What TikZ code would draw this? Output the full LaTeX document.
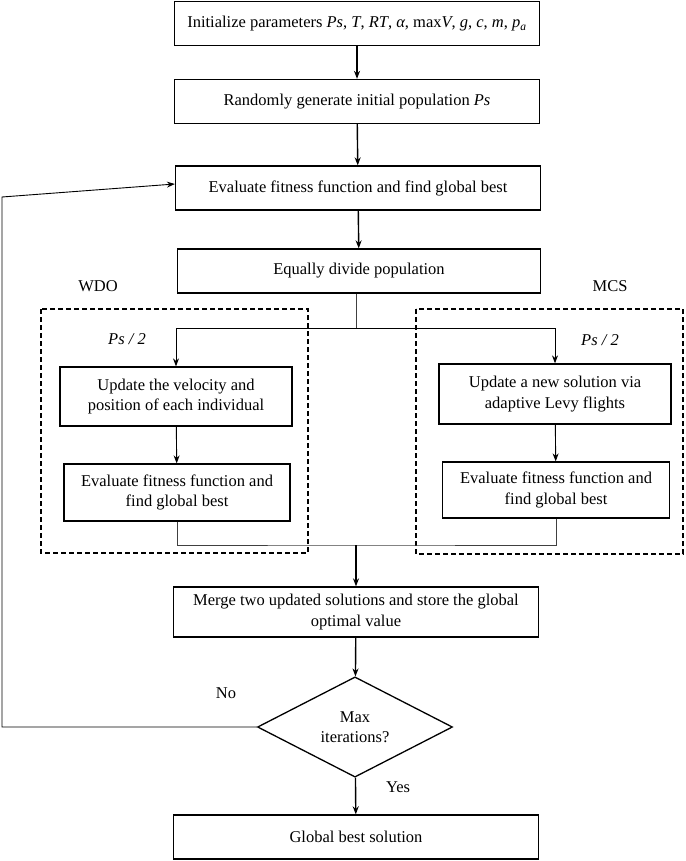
\documentclass[tikz,border=0pt]{standalone}
\usepackage{fontspec}
\setmainfont{Liberation Serif}
\usetikzlibrary{shapes.geometric,arrows.meta}
\begin{document}
\begin{tikzpicture}[x=1pt,y=1pt]
      \tikzstyle{every node}+=[inner sep=0pt, font=\fontsize{16.5}{20.5}\selectfont]
      \tikzstyle{block}=[draw=black, line width=1.3pt, align=center, minimum height=44pt]
      \tikzstyle{flow}=[black, line width=1.4pt, -{Stealth[length=8pt,width=6pt]}]
      \tikzstyle{subflow}=[black, line width=0.9pt, -{Stealth[length=8pt,width=6pt]}]
      \tikzstyle{link}=[black!75, line width=0.8pt]
      \tikzstyle{group}=[black, line width=1.1pt, dash pattern=on 5pt off 3pt]
      \useasboundingbox (0,0) rectangle (685,-861);
      \node [block, minimum width=365pt] (init) at (357,-23.5) {Initialize parameters \textit{Ps}, \textit{T}, \textit{RT}, \textit{α}, max\textit{V}, \textit{g}, \textit{c}, \textit{m}, \textit{p\textsubscript{a}}};
      \node [block, minimum width=365pt] (rand) at (357,-101.5) {Randomly generate initial population \textit{Ps}};
      \node [block, minimum width=365pt] (eval) at (358,-188) {Evaluate fitness function and find global best};
      \node [block, minimum width=363pt] (divide) at (359,-271) {Equally divide population};
      \node (wdo) at (98,-286) {WDO};
      \node (mcs) at (610,-286) {MCS};
      \draw [group] (41,-309) rectangle (308,-553);
      \draw [group] (416,-309) rectangle (683,-554);
      \node (halfl) at (127,-339) {\textit{Ps / 2}};
      \node (halfr) at (600,-340) {\textit{Ps / 2}};
      \node [block, minimum width=232pt, minimum height=59pt] (updwdo) at (176,-396.5) {Update the velocity and\\position of each individual};
      \node [block, minimum width=226pt, minimum height=57pt] (evalwdo) at (177,-492.5) {Evaluate fitness function and\\find global best};
      \node [block, minimum width=232pt, minimum height=60pt] (updmcs) at (555,-394) {Update a new solution via\\adaptive Levy flights};
      \node [block, minimum width=227pt, minimum height=56pt] (evalmcs) at (556,-490) {Evaluate fitness function and\\find global best};
      \node [block, minimum width=365pt, minimum height=50pt] (merge) at (356,-612) {Merge two updated solutions and store the global\\optimal value};
      \node [diamond, draw=black, line width=1.3pt, align=center, minimum width=195pt, minimum height=96pt] (maxit) at (355,-727) {Max\\iterations?};
      \node (no) at (226,-693) {No};
      \node (yes) at (398,-787) {Yes};
      \node [block, minimum width=365pt] (best) at (356,-837) {Global best solution};
      \coordinate (split) at (356,-328);
      \coordinate (join) at (356,-545);
      \coordinate (backlow) at (2,-727);
      \coordinate (backhigh) at (2,-197);
      \draw [flow] (init) -- (rand);
      \draw [flow] (rand) -- (eval);
      \draw [flow] (eval) -- (divide);
      \draw [link] (divide.south -| split) -- (split);
      \draw [subflow] (split) -| (updwdo);
      \draw [subflow] (split) -| (updmcs);
      \draw [subflow] (updwdo) -- (evalwdo);
      \draw [subflow] (updmcs) -- (evalmcs);
      \draw [link] (evalwdo.south) |- (join) -| (evalmcs.south);
      \draw [flow] (join) -- (merge);
      \draw [flow] (merge) -- (maxit);
      \draw [flow] (maxit) -- (best);
      \draw [subflow] (maxit.west) -- (backlow) -- (backhigh) -- ([yshift=4pt]eval.west);
\end{tikzpicture}
\end{document}
